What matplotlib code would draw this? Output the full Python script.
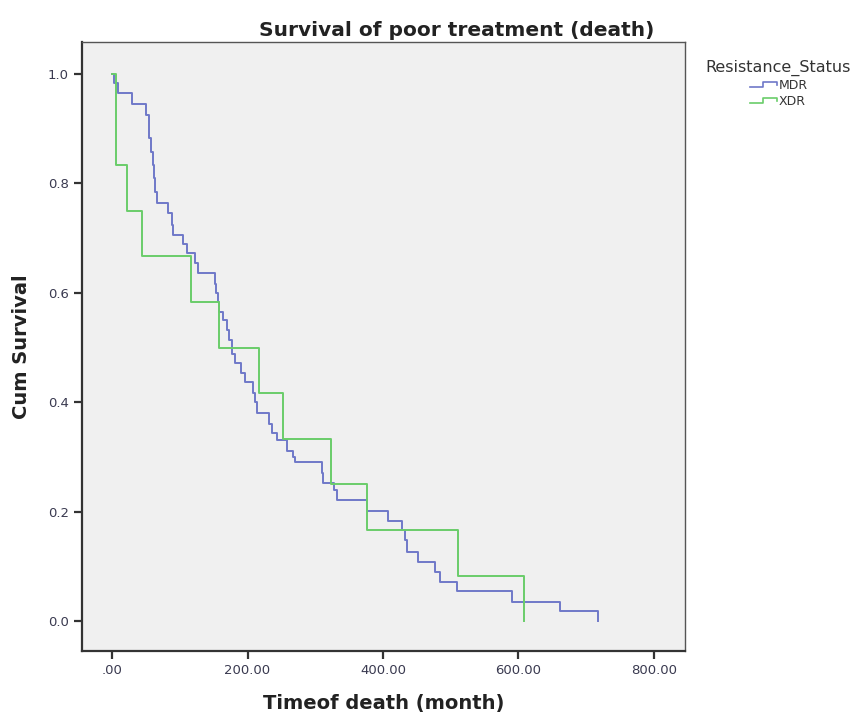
import matplotlib
matplotlib.use('Agg')
import matplotlib.pyplot as plt
from matplotlib.lines import Line2D
from matplotlib.legend_handler import HandlerBase
from matplotlib.ticker import FuncFormatter

# Kaplan-Meier steps (time in months, cum survival)
mdr_time = [0, 3, 9, 30, 50, 54, 55, 57, 60, 62,
            63.5, 66, 83, 88, 90, 105, 110, 122.5, 127, 152,
            154, 156.5, 158, 164, 169, 173, 177, 181.5, 191, 196,
            208.5, 211, 213.5, 231, 236, 243, 258, 267.5, 270, 309.5,
            312, 327, 331.5, 376, 408, 427.5, 432.5, 435, 452, 477,
            484, 509, 590, 662, 717]
mdr_surv = [1.0, 0.983, 0.965, 0.946, 0.925, 0.907, 0.883, 0.858, 0.834, 0.809,
            0.785, 0.764, 0.745, 0.724, 0.706, 0.689, 0.672, 0.654, 0.636, 0.617,
            0.599, 0.583, 0.565, 0.55, 0.532, 0.514, 0.489, 0.471, 0.453, 0.437,
            0.416, 0.40, 0.38, 0.361, 0.343, 0.331, 0.31, 0.30, 0.291, 0.27,
            0.252, 0.239, 0.221, 0.201, 0.183, 0.166, 0.148, 0.127, 0.108, 0.09,
            0.072, 0.054, 0.035, 0.019, 0.0]

xdr_time = [0, 6, 22.5, 45, 116, 158, 217, 252, 323, 376, 510, 608]
xdr_surv = [1.0, 0.833, 0.75, 0.667, 0.583, 0.5, 0.417, 0.333, 0.25, 0.167, 0.083, 0.0]

group_names = ['MDR', 'XDR']
group_colors = ['#6f78c8', '#6acd6a']

x_ticks = [0, 200, 400, 600, 800]
y_ticks = [0.0, 0.2, 0.4, 0.6, 0.8, 1.0]


class StepHandler(HandlerBase):
    """Small step-shaped legend key like the SPSS one."""
    def create_artists(self, legend, orig_handle, xdescent, ydescent,
                       width, height, fontsize, trans):
        xs = [0, 0.5 * width, 0.5 * width, width, width]
        ys = [0.2 * height, 0.2 * height, 0.85 * height, 0.85 * height, 0.5 * height]
        line = Line2D([x - xdescent for x in xs], [y - ydescent for y in ys],
                      color=orig_handle.get_color(), lw=1.2)
        line.set_transform(trans)
        return [line]


fig = plt.figure(figsize=(8.61, 7.16), dpi=100)
fig.patch.set_facecolor('white')
ax = fig.add_axes([82 / 861, 65 / 716, 603 / 861, 609 / 716])
ax.set_facecolor('#f0f0f0')

h1, = ax.step(mdr_time, mdr_surv, where='post', color=group_colors[0], lw=1.4)
h2, = ax.step(xdr_time, xdr_surv, where='post', color=group_colors[1], lw=1.4)

ax.set_xlim(-44.3, 845.8)
ax.set_ylim(-0.0548, 1.0585)
ax.set_xticks(x_ticks)
ax.set_yticks(y_ticks)
ax.xaxis.set_major_formatter(FuncFormatter(lambda v, p: '.00' if v == 0 else '%.2f' % v))
ax.yaxis.set_major_formatter(FuncFormatter(lambda v, p: '%.1f' % v))

for s in ['top', 'right']:
    ax.spines[s].set_color('#555555')
    ax.spines[s].set_linewidth(1.0)
for s in ['left', 'bottom']:
    ax.spines[s].set_color('#333333')
    ax.spines[s].set_linewidth(1.6)
ax.tick_params(direction='out', length=6, width=1.6, color='#333333',
               labelsize=9.5, labelcolor='#3a3a50')

ax.set_xlabel('Timeof death (month)', fontsize=14, fontweight='bold', color='#222222', labelpad=12)
ax.set_ylabel('Cum Survival', fontsize=14, fontweight='bold', color='#222222', labelpad=12)
fig.text(457 / 861, 1 - 30 / 716, 'Survival of poor treatment (death)', ha='center', va='center',
         fontsize=14.5, fontweight='bold', color='#222222')

leg = fig.legend([h1, h2], group_names, title='Resistance_Status',
                 handler_map={h1: StepHandler(), h2: StepHandler()},
                 loc='upper left', bbox_to_anchor=(697 / 861, 1 - 51 / 716),
                 frameon=False, fontsize=9, title_fontsize=11.5,
                 handlelength=2.2, handletextpad=0.1, labelspacing=0.25,
                 borderpad=0.2)
leg.get_title().set_color('#333333')
for t in leg.get_texts():
    t.set_color('#333333')

fig.savefig('out.png', dpi=100)
